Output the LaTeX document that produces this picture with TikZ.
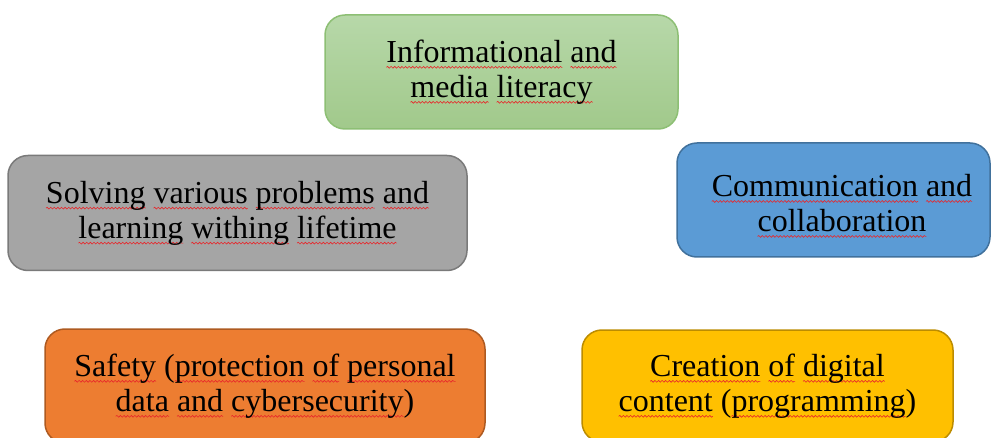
\documentclass[tikz,border=0pt]{standalone}
\usepackage{fontspec}
\setmainfont{Liberation Serif}
\usetikzlibrary{decorations.pathmorphing}
\newsavebox\sqbox
\newcommand\sq[1]{\sbox\sqbox{#1}\leavevmode\rlap{\tikz[baseline=0pt,overlay]\draw[wavy] (0pt,-5pt) -- (\wd\sqbox,-5pt);}\usebox\sqbox}
\definecolor{gfillA}{HTML}{B7D8A9}
\definecolor{gfillB}{HTML}{A1C98B}
\definecolor{gline}{HTML}{8DBF74}
\definecolor{grayfill}{HTML}{A5A5A5}
\definecolor{grayline}{HTML}{7A7A7A}
\definecolor{bluefill}{HTML}{5B9BD5}
\definecolor{blueline}{HTML}{41719C}
\definecolor{orfill}{HTML}{ED7D31}
\definecolor{orline}{HTML}{AE5A21}
\definecolor{yefill}{HTML}{FFC000}
\definecolor{yeline}{HTML}{BC8C00}
\definecolor{wavered}{HTML}{E8262A}
\tikzset{
  box/.style={rounded corners=20pt, line width=1.5pt, align=center, inner sep=0pt,
    font=\fontsize{32}{35}\selectfont, text=black},
  txt/.style={align=center, inner sep=0pt, font=\fontsize{32}{35}\selectfont, text=black},
  wavy/.style={draw=wavered, line width=0.6pt, sharp corners, decorate,
    decoration={snake, amplitude=0.9pt, segment length=3.6pt}}
}
\begin{document}
\begin{tikzpicture}[x=1pt,y=-1pt]
\useasboundingbox (0,0) rectangle (993,438);
\clip (0,0) rectangle (993,438);
\node[box, draw=gline, top color=gfillA, bottom color=gfillB, minimum width=353pt, minimum height=114pt] (info) at (501.5,72)
  {\sq{Informational} \sq{and}\\\sq{media} \sq{literacy}};
\node[box, draw=grayline, fill=grayfill, minimum width=459pt, minimum height=115pt] (solve) at (237.5,213)
  {\sq{Solving} \sq{various} \sq{problems} \sq{and}\\\sq{learning} \sq{withing} \sq{lifetime}};
\node[box, draw=blueline, fill=bluefill, minimum width=313pt, minimum height=114pt] (comm) at (833.5,200) {};
\node[txt] (commtext) at (842,203) {\sq{Communication} \sq{and}\\\sq{collaboration}};
\node[box, draw=orline, fill=orfill, minimum width=440pt, minimum height=114pt] (safe) at (265,386)
  {\sq{Safety} (\sq{protection} \sq{of} \sq{personal}\\\sq{data} \sq{and} \sq{cybersecurity})};
\node[box, draw=yeline, fill=yefill, minimum width=371pt, minimum height=112pt] (create) at (767.5,386)
  {\sq{Creation} \sq{of} \sq{digital}\\\sq{content} (\sq{programming})};
\end{tikzpicture}
\end{document}
